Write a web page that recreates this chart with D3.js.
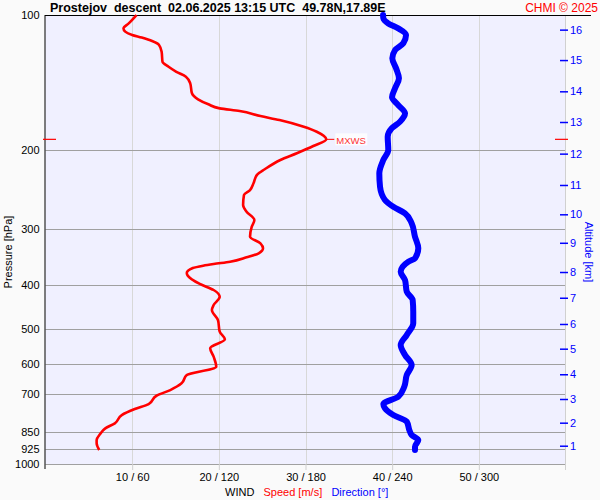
<!DOCTYPE html>
<html><head><meta charset="utf-8">
<script src="https://cdn.jsdelivr.net/npm/d3@7"></script>
<style>
html,body{margin:0;padding:0;background:#fafafa;}
svg{display:block;font-family:"Liberation Sans",Arial,sans-serif;}
</style></head>
<body><svg id="c" width="600" height="500"></svg>
<script>
// ---- data ----
const titleText = "Prostejov  descent  02.06.2025 13:15 UTC  49.78N,17.89E";
const creditText = "CHMI \u00a9 2025";
const pressureTicks = [100, 200, 300, 400, 500, 600, 700, 850, 925, 1000];
const windTicks = [10, 20, 30, 40, 50];
const windTickLabels = ["10 / 60", "20 / 120", "30 / 180", "40 / 240", "50 / 300"];
const altLabels = [1, 2, 3, 4, 5, 6, 7, 8, 9, 10, 11, 12, 13, 14, 15, 16];
const altPressures = [910.5, 809.1, 716.5, 631.2, 553.6, 487.7, 426.3, 373.6, 321.6, 277.9, 239.1, 203.6, 173.1, 147.9, 126.0, 107.8];
const speedPres = [100,104.4,107.1,108.9,110.8,112.3,114.3,116.6,120.7,127.1,130.4,133.8,137.2,142.0,149.4,154.1,158.1,161.4,163.6,167.9,171.4,177.4,182.0,189.2,195.8,203.2,210.3,220.6,227.1,237.0,245.4,251.7,265.0,274.2,286.2,296.2,311.7,322.5,330.9,339.4,346.5,354.4,358.6,361.7,366.1,375.5,380.4,397.2,409.7,424.0,442.5,453.9,477.9,507.3,527.6,552.5,576.8,607.2,633.7,661.3,684.4,704.7,735.3,754.3,777.9,811.8,832.8,857.5,884.2,899.4,930.6];
const speedVal = [10.5,9.6,9.0,9.2,10.0,11.1,12.3,13.1,13.4,13.5,14.2,15.1,16.2,16.7,16.9,17.6,18.8,20.1,22.4,24.8,27.0,29.8,31.3,32.4,30.9,29.0,27.1,25.3,24.4,24.0,23.6,22.9,22.8,23.2,24.1,23.8,23.6,24.8,25.1,24.6,23.2,21.3,19.4,18.2,17.0,16.3,16.4,17.8,19.4,20.1,19.4,19.2,19.9,20.1,20.7,19.0,19.4,19.7,16.3,15.7,14.4,12.8,11.9,10.3,8.8,8.0,6.9,6.3,5.9,5.9,6.2];
const dirPres = [100,101.7,104.4,107.1,110.8,115.6,119.7,124.9,131.4,138.4,145.6,152.5,158.7,165.6,172.9,178.8,186.7,199.9,210.3,225.2,241.3,258.2,267.3,276.5,291.0,311.7,330.9,348.3,354.4,373.0,389.2,413.3,431.2,457.9,486.1,516.1,543.3,571.8,601.9,633.7,672.5,708.2,735.3,751.5,777.9,805.0,840.1,861.9,884.2,915.2,930.6];
const dirVal = [233.7,233.9,237.3,244.2,249.6,247.7,242.0,240.1,242.7,244.7,242.0,239.9,244.2,248.9,245.4,239.7,236.9,237.3,233.9,231.1,231.6,235.0,240.8,248.9,253.5,255.8,258.1,255.8,251.2,245.9,248.9,250.1,254.2,254.6,254.6,250.1,245.9,248.9,253.5,250.1,248.4,244.2,233.9,235.0,240.8,250.1,251.9,253.5,258.1,255.8,255.8];
const maxWindPres = 189.2;
const maxWindSpeed = 32.4;
const maxWindLabel = "MXWS";

// ---- layout ----
const L = 45.5, R = 565.5, T = 15, B = 464;
const svg = d3.select("#c");
const y = d3.scaleLog().domain([100, 1000]).range([T, B]);
const xs = d3.scaleLinear().domain([0, 60]).range([L, R]);
const xd = d3.scaleLinear().domain([0, 360]).range([L, R]);

svg.append("rect").attr("x", L).attr("y", T).attr("width", R - L).attr("height", B - T).attr("fill", "#f0f0ff");

// vertical grid
svg.append("g").selectAll("line").data(windTicks).join("line")
  .attr("x1", d => Math.round(xs(d)) + 0.5).attr("x2", d => Math.round(xs(d)) + 0.5)
  .attr("y1", T).attr("y2", B).attr("stroke", "#d8d8d8").attr("stroke-width", 1);
// horizontal grid
svg.append("g").selectAll("line").data(pressureTicks.slice(1)).join("line")
  .attr("x1", L).attr("x2", R)
  .attr("y1", d => Math.round(y(d)) + 0.5).attr("y2", d => Math.round(y(d)) + 0.5)
  .attr("stroke", "#a0a0a0").attr("stroke-width", 1);

// right axis line
svg.append("line").attr("x1", R).attr("x2", R).attr("y1", T).attr("y2", B + 6)
  .attr("stroke", "#d0d0d0");

// bottom axis
const gx = svg.append("g").attr("transform", `translate(0,${B})`)
  .call(d3.axisBottom(xs).tickValues(windTicks).tickFormat((d, i) => windTickLabels[i]).tickSize(6).tickPadding(3));
gx.select(".domain").remove();
gx.selectAll(".tick line").attr("stroke", "#d0d0d0");
gx.selectAll("text").attr("font-size", 11).attr("fill", "#000").attr("font-family", "Liberation Sans, Arial, sans-serif");

// left axis
const gy = svg.append("g").attr("transform", `translate(${L},0)`)
  .call(d3.axisLeft(y).tickValues(pressureTicks).tickFormat(d3.format("d")).tickSize(0).tickPadding(6));
gy.select(".domain").remove();
gy.selectAll("text").attr("font-size", 11).attr("fill", "#000").attr("font-family", "Liberation Sans, Arial, sans-serif");
svg.append("line").attr("x1", L - 0.5).attr("x2", L - 0.5).attr("y1", T).attr("y2", B + 5).attr("stroke", "#000");
svg.append("line").attr("x1", L - 0.5).attr("x2", 591).attr("y1", T + 0.5).attr("y2", T + 0.5).attr("stroke", "#000");

// right altitude axis
const ga = svg.append("g").attr("transform", `translate(560,0)`)
  .call(d3.axisRight(y).tickValues(altPressures).tickFormat((d, i) => altLabels[i]).tickSize(8).tickPadding(2));
ga.select(".domain").remove();
ga.selectAll(".tick line").attr("stroke", "#0000ff").attr("stroke-width", 1.5);
ga.selectAll("text").attr("font-size", 11).attr("fill", "#0000ff").attr("font-family", "Liberation Sans, Arial, sans-serif");

// direction line
const lineDir = d3.line().x(d => xd(d[1])).y(d => y(d[0])).curve(d3.curveMonotoneY);
svg.append("path").datum(dirPres.map((p, i) => [p, dirVal[i]]))
  .attr("d", lineDir).attr("fill", "none").attr("stroke", "#0000ff").attr("stroke-width", 6)
  .attr("stroke-linecap", "round").attr("stroke-linejoin", "round");

// speed line
const lineSpd = d3.line().x(d => xs(d[1])).y(d => y(d[0])).curve(d3.curveMonotoneY);
svg.append("path").datum(speedPres.map((p, i) => [p, speedVal[i]]))
  .attr("d", lineSpd).attr("fill", "none").attr("stroke", "#ff0000").attr("stroke-width", 2.6)
  .attr("stroke-linejoin", "round");

// max wind markers
const my = y(maxWindPres);
svg.append("line").attr("x1", 43).attr("x2", 56).attr("y1", my).attr("y2", my).attr("stroke", "#ff0000").attr("stroke-width", 1.2);
svg.append("line").attr("x1", 555).attr("x2", 568).attr("y1", my).attr("y2", my).attr("stroke", "#ff0000").attr("stroke-width", 1.2);
svg.append("line").attr("x1", xs(maxWindSpeed)).attr("x2", xs(maxWindSpeed) + 8).attr("y1", my).attr("y2", my).attr("stroke", "#ff0000").attr("stroke-width", 1);
svg.append("rect").attr("x", xs(maxWindSpeed) + 9).attr("y", my - 6).attr("width", 32).attr("height", 12).attr("fill", "#ffffff").attr("opacity", 0.8);
svg.append("text").attr("x", xs(maxWindSpeed) + 10).attr("y", my + 4.5).attr("font-size", 9.5).attr("fill", "#ff3333").text(maxWindLabel);

// titles
svg.append("text").attr("x", 50).attr("y", 12).attr("font-size", 12.5).attr("font-weight", "bold")
  .attr("fill", "#000").style("white-space", "pre").text(titleText);
svg.append("text").attr("x", 598).attr("y", 12).attr("text-anchor", "end").attr("font-size", 12)
  .attr("fill", "#ff0000").text(creditText);

svg.append("text").attr("transform", "translate(12,252) rotate(-90)").attr("text-anchor", "middle")
  .attr("font-size", 11).attr("fill", "#000").text("Pressure [hPa]");
svg.append("text").attr("transform", "translate(585,252) rotate(90)").attr("text-anchor", "middle")
  .attr("font-size", 11).attr("fill", "#0000ff").text("Altitude [km]");

const leg = svg.append("text").attr("x", 225).attr("y", 496).attr("font-size", 11).style("white-space", "pre");
leg.append("tspan").attr("fill", "#000").text("WIND   ");
leg.append("tspan").attr("fill", "#ff0000").text("Speed [m/s]   ");
leg.append("tspan").attr("fill", "#0000ff").text("Direction [\u00b0]");
</script></body></html>
